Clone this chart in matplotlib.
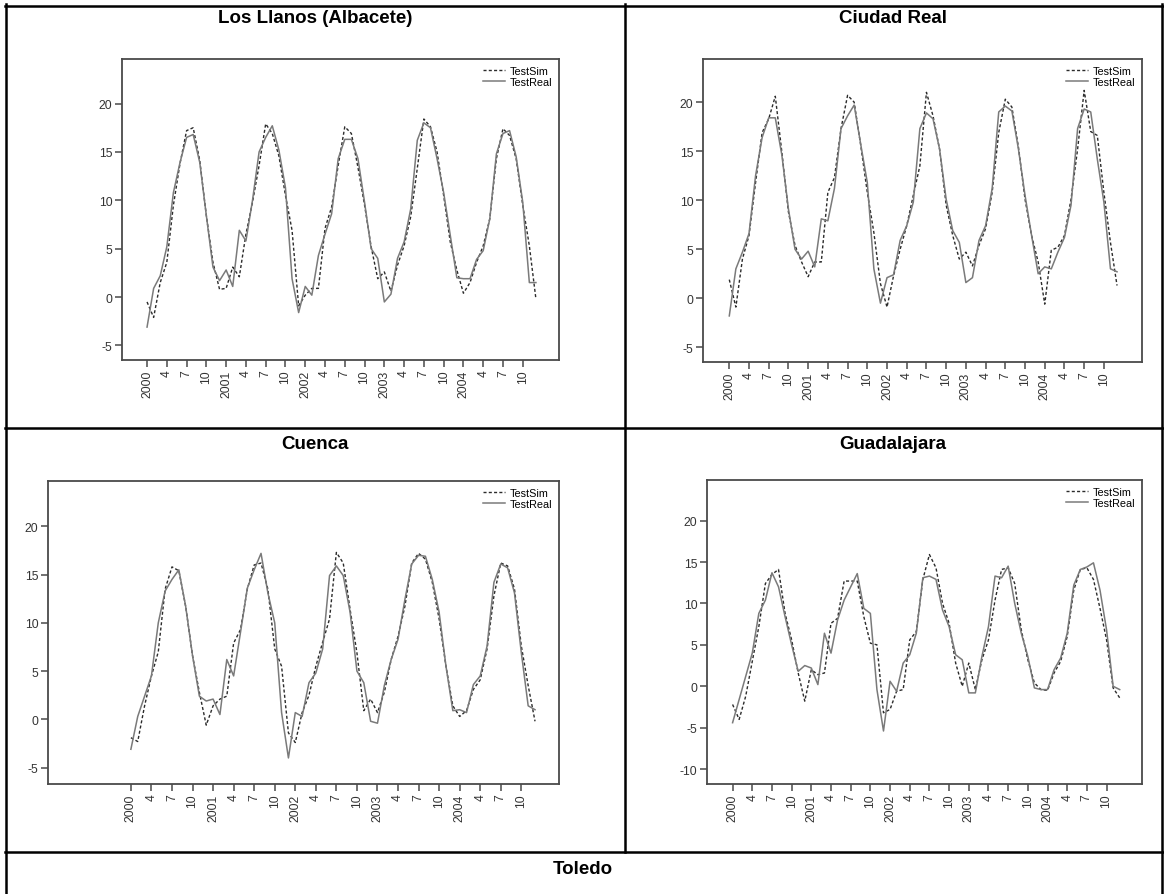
import matplotlib
matplotlib.use('Agg')
import matplotlib.pyplot as plt
from matplotlib.lines import Line2D
import numpy as np

# ==========================================
# Data (monthly, Jan 2000 - Dec 2004)
# ==========================================
tick_labels = ['2000', '4', '7', '10', '2001', '4', '7', '10', '2002', '4', '7', '10',
               '2003', '4', '7', '10', '2004', '4', '7', '10']

llanos_real = [-3.1, 0.9, 2.2, 5.2, 10.8, 13.9, 16.5, 16.8, 13.9, 8.4, 3.1, 1.7,
               2.8, 1.1, 6.9, 5.8, 10.0, 15.0, 16.5, 17.7, 15.2, 11.3, 1.9, -1.6,
               1.1, 0.2, 4.3, 6.5, 8.6, 14.3, 16.3, 16.3, 14.3, 9.8, 5.0, 4.0,
               -0.5, 0.3, 4.0, 5.7, 9.1, 16.2, 18.0, 17.5, 14.3, 10.8, 6.4, 2.0,
               1.9, 1.9, 3.9, 4.8, 8.1, 14.8, 16.9, 17.2, 14.5, 9.8, 1.5, 1.5]
llanos_sim = [-0.5, -2.1, 1.5, 3.6, 9.5, 13.8, 17.2, 17.5, 14.1, 8.4, 3.6, 0.8,
              0.9, 3.1, 2.1, 6.5, 9.8, 13.6, 17.9, 16.9, 14.6, 10.5, 6.9, -0.9,
              0.2, 0.9, 0.9, 7.1, 9.3, 13.6, 17.6, 16.9, 13.4, 9.5, 5.2, 1.9,
              2.6, 0.6, 3.3, 5.3, 8.3, 13.3, 18.4, 17.6, 15.0, 10.5, 5.7, 2.8,
              0.4, 1.5, 3.6, 5.3, 8.1, 14.3, 17.4, 16.7, 14.3, 9.5, 5.3, -0.2]

creal_real = [-1.8, 3.0, 4.7, 6.6, 12.5, 16.4, 18.4, 18.4, 14.6, 9.1, 5.0, 4.0,
              4.8, 3.2, 8.1, 7.9, 11.2, 17.3, 18.6, 19.7, 15.7, 11.8, 3.0, -0.5,
              2.1, 2.4, 5.9, 7.4, 9.8, 17.3, 18.9, 18.3, 15.2, 10.1, 6.9, 5.7,
              1.6, 2.1, 5.9, 7.4, 11.2, 19.0, 19.6, 19.1, 15.2, 10.5, 6.4, 2.5,
              3.2, 3.0, 4.7, 6.2, 9.5, 17.3, 19.3, 19.0, 14.2, 9.8, 3.0, 2.7]
creal_sim = [1.9, -0.9, 4.0, 6.4, 11.8, 16.9, 18.3, 20.6, 14.9, 8.8, 5.4, 3.7,
             2.2, 3.7, 3.7, 10.8, 12.3, 17.3, 20.7, 20.0, 15.6, 10.8, 6.7, 1.5,
             -0.9, 2.3, 5.0, 7.4, 10.5, 13.5, 21.0, 18.6, 15.2, 9.5, 6.4, 4.0,
             4.7, 3.3, 5.4, 7.1, 10.8, 16.9, 20.3, 19.5, 15.4, 10.1, 6.4, 3.7,
             -0.6, 4.9, 5.2, 6.4, 10.1, 15.2, 21.2, 17.0, 16.6, 10.8, 5.7, 1.3]

cuenca_real = [-3.1, 0.3, 2.4, 4.5, 10.0, 13.3, 14.5, 15.5, 11.7, 6.6, 2.4, 1.9,
               2.1, 0.5, 6.2, 4.5, 9.0, 13.6, 15.5, 17.2, 13.1, 10.0, 0.7, -4.0,
               0.7, 0.3, 3.8, 4.8, 7.3, 14.9, 15.9, 14.9, 11.1, 5.0, 3.8, -0.2,
               -0.4, 3.5, 6.2, 8.3, 12.4, 16.1, 17.0, 16.9, 14.5, 11.1, 5.5, 0.9,
               1.0, 0.7, 3.6, 4.5, 7.6, 14.2, 16.1, 15.7, 13.1, 6.9, 1.4, 1.0]
cuenca_sim = [-1.9, -2.3, 1.4, 4.5, 7.0, 13.5, 15.8, 15.4, 11.7, 6.6, 2.8, -0.6,
              1.4, 2.1, 2.4, 7.9, 9.3, 13.5, 16.0, 16.2, 13.5, 7.3, 5.5, -1.4,
              -2.4, 0.7, 2.5, 5.5, 8.0, 10.4, 17.3, 16.2, 11.4, 6.9, 0.9, 2.1,
              0.7, 2.8, 6.2, 8.6, 11.7, 16.2, 17.2, 16.6, 14.2, 10.4, 5.5, 1.4,
              0.3, 0.9, 3.1, 4.1, 7.3, 12.8, 16.2, 15.9, 13.5, 7.6, 3.5, -0.2]

guada_real = [-4.4, -1.6, 1.2, 4.0, 8.8, 10.4, 13.7, 12.0, 8.4, 5.0, 1.8, 2.5,
              2.2, 0.2, 6.4, 4.0, 8.0, 10.4, 12.0, 13.6, 9.4, 8.8, -0.4, -5.4,
              0.6, -0.6, 2.8, 3.8, 6.4, 13.1, 13.3, 12.9, 9.2, 7.2, 3.8, 3.2,
              -0.8, -0.8, 3.6, 7.2, 13.3, 13.1, 14.5, 10.0, 6.4, 3.6, -0.2, -0.4,
              -0.4, 2.0, 3.4, 6.4, 12.2, 14.1, 14.4, 14.9, 11.6, 6.8, 0.0, -0.4]
guada_sim = [-2.2, -4.0, -1.2, 3.0, 7.2, 12.4, 13.5, 14.1, 8.8, 5.6, 1.6, -1.8,
             2.0, 1.4, 1.6, 7.6, 8.2, 12.7, 12.7, 12.7, 8.4, 5.2, 5.0, -3.2,
             -2.8, -0.6, -0.4, 5.6, 6.6, 12.9, 15.9, 14.3, 10.0, 7.6, 2.8, 0.0,
             2.8, -0.4, 3.2, 5.6, 10.4, 14.1, 14.3, 12.4, 6.8, 3.2, 0.4, -0.4,
             -0.5, 1.6, 3.0, 6.0, 11.6, 14.1, 14.3, 12.9, 9.4, 5.6, -0.2, -1.4]

# ==========================================
# Layout (pixel based, 1164 x 895)
# ==========================================
W, H = 1164, 895
fig = plt.figure(figsize=(W / 100, H / 100), dpi=100)
fig.patch.set_facecolor('white')

TITLE_FONT = dict(family=['Liberation Sans Narrow', 'Liberation Sans'], fontsize=13.5, fontweight='bold')
TICK_FONT = ['Liberation Sans', 'DejaVu Sans']


def px_axes(l, t, r, b):
    return fig.add_axes([l / W, 1 - b / H, (r - l) / W, (b - t) / H])


def hline(y, x0, x1, lw=1.8):
    fig.add_artist(Line2D([x0 / W, x1 / W], [1 - y / H, 1 - y / H],
                          transform=fig.transFigure, color='black', lw=lw))


def vline(x, y0, y1, lw=1.8):
    fig.add_artist(Line2D([x / W, x / W], [1 - y0 / H, 1 - y1 / H],
                          transform=fig.transFigure, color='black', lw=lw))


def draw_panel(rect, real, sim, xlim, ylim, yticks):
    ax = px_axes(*rect)
    months = np.arange(len(real))
    ax.plot(months, sim, linestyle=(0, (2.2, 1.6)), color='#2b2b2b', lw=1.0, label='TestSim')
    ax.plot(months, real, '-', color='#7a7a7a', lw=1.1, label='TestReal')
    ax.set_xlim(*xlim)
    ax.set_ylim(*ylim)
    ax.set_xticks(np.arange(0, 60, 3))
    ax.set_xticklabels(tick_labels, rotation=90)
    ax.set_yticks(yticks)
    ax.set_yticklabels([str(v) for v in yticks])
    for sp in ax.spines.values():
        sp.set_color('#4a4a4a')
        sp.set_linewidth(1.3)
    ax.tick_params(axis='both', direction='out', length=5, width=1.1, color='#4a4a4a',
                   labelsize=8.7, labelcolor='#333333', pad=2)
    ax.tick_params(top=False, right=False)
    for lab in ax.get_xticklabels() + ax.get_yticklabels():
        lab.set_family(TICK_FONT)
    ax.legend(loc='upper right', frameon=False, handlelength=2.0,
              handletextpad=0.4, labelspacing=0.05, borderaxespad=0.25,
              prop={'family': TICK_FONT, 'size': 7.8})
    return ax


yt = [-5, 0, 5, 10, 15, 20]
draw_panel((122, 60, 559, 361), llanos_real, llanos_sim, (-3.8, 62.5), (-6.5, 24.6), yt)
draw_panel((703, 60, 1142, 363), creal_real, creal_sim, (-4.0, 62.8), (-6.5, 24.4), yt)
draw_panel((48, 482, 559, 785), cuenca_real, cuenca_sim, (-12.1, 62.5), (-6.7, 24.7), yt)
draw_panel((707, 481, 1142, 785), guada_real, guada_sim, (-3.9, 62.4), (-11.8, 24.9),
           [-10, -5, 0, 5, 10, 15, 20])

# ==========================================
# Table borders and cell titles
# ==========================================
hline(6.5, 5, 1163)
hline(429, 5, 1163)
hline(853, 5, 1163)
vline(6, 5, 895)
vline(1162, 5, 895)
vline(625, 5, 853)

fig.text(315 / W, 1 - 18.5 / H, 'Los Llanos (Albacete)', ha='center', va='center', **TITLE_FONT)
fig.text(893 / W, 1 - 18.5 / H, 'Ciudad Real', ha='center', va='center', **TITLE_FONT)
fig.text(315 / W, 1 - 445 / H, 'Cuenca', ha='center', va='center', **TITLE_FONT)
fig.text(893 / W, 1 - 445 / H, 'Guadalajara', ha='center', va='center', **TITLE_FONT)
fig.text(583 / W, 1 - 870 / H, 'Toledo', ha='center', va='center', **TITLE_FONT)

fig.savefig('out.png', dpi=100)
plt.close(fig)
